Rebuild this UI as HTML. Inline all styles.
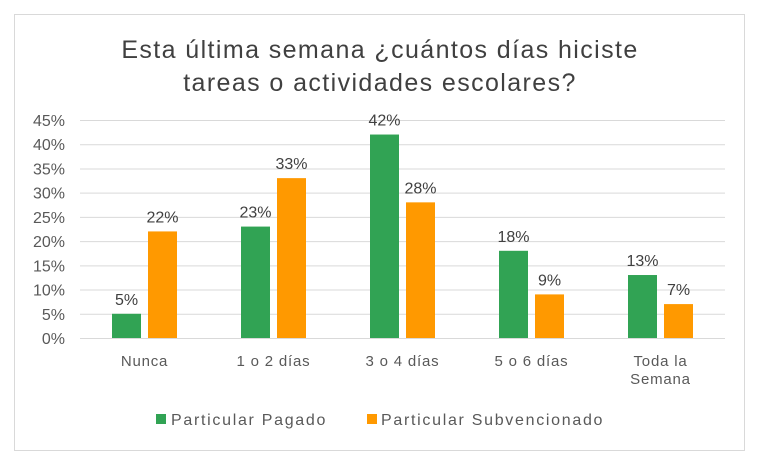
<!DOCTYPE html>
<html><head><meta charset="utf-8"><style>
body{margin:0;background:#fff;}
svg text{font-family:"Liberation Sans",sans-serif;}
</style></head><body>
<svg id="c" width="758" height="465">
<rect x="14.5" y="14.5" width="730" height="436" fill="#fff" stroke="#d9d9d9"/>
<text x="380" y="58" text-anchor="middle" font-size="25" letter-spacing="1.4" fill="#404040">Esta última semana ¿cuántos días hiciste</text>
<text x="380" y="91" text-anchor="middle" font-size="25" letter-spacing="1.4" fill="#404040">tareas o actividades escolares?</text>
<g id="grid"></g><g id="bars"></g><g id="labels"></g>
<rect x="156" y="414" width="10" height="10" fill="#31a354"/>
<text x="171" y="425" font-size="16" letter-spacing="1.7" fill="#595959">Particular Pagado</text>
<rect x="367" y="414" width="10" height="10" fill="#ff9900"/>
<text x="381" y="425" font-size="16" letter-spacing="1.7" fill="#595959">Particular Subvencionado</text>
</svg>
<script>
const categories=[["Nunca"],["1 o 2 días"],["3 o 4 días"],["5 o 6 días"],["Toda la","Semana"]];
const pagado=[5,23,42,18,13];
const subvencionado=[22,33,28,9,7];
const ticks=[0,5,10,15,20,25,30,35,40,45];
const NS="http://www.w3.org/2000/svg";
const x0=80,cw=129,y0=338,yTop=120,maxV=45;
const y=v=>y0-(y0-yTop)*v/maxV;
const cx=i=>x0+cw*i+cw/2;
function mk(tag,attrs,parent,txt){const e=document.createElementNS(NS,tag);for(const k in attrs)e.setAttribute(k,attrs[k]);if(txt!==undefined)e.textContent=txt;document.getElementById(parent).appendChild(e);return e;}
ticks.forEach(t=>{
 const l=mk('line',{x1:x0,x2:x0+cw*5,y1:y(t)+0.5,y2:y(t)+0.5,stroke:'#d9d9d9'},'grid');
 
 
 const tx=mk('text',{x:65,y:y(t)+6,'text-anchor':'end','font-size':16,fill:'#595959'},'grid',t+'%');
 
 
});
categories.forEach((c,i)=>{
 const c0=cx(i);
 [[pagado[i],'#31a354',c0-32.5,'bar-pagado'],[subvencionado[i],'#ff9900',c0+3.5,'bar-subvencionado']].forEach(([v,col,bx,nm])=>{
  const r=mk('rect',{x:bx,y:y(v),width:29,height:y0-y(v),fill:col},'bars');
  
  
  const t=mk('text',{x:bx+14.5,y:y(v)-9,'text-anchor':'middle','font-size':16,fill:'#404040'},'labels',v+'%');
  
  
 });
 c.forEach((line,k)=>{
  const t=mk('text',{x:c0,y:366+k*18,'text-anchor':'middle','font-size':15,'letter-spacing':0.8,fill:'#595959'},'labels',line);
  
  
 });
});
</script>
</body></html>
